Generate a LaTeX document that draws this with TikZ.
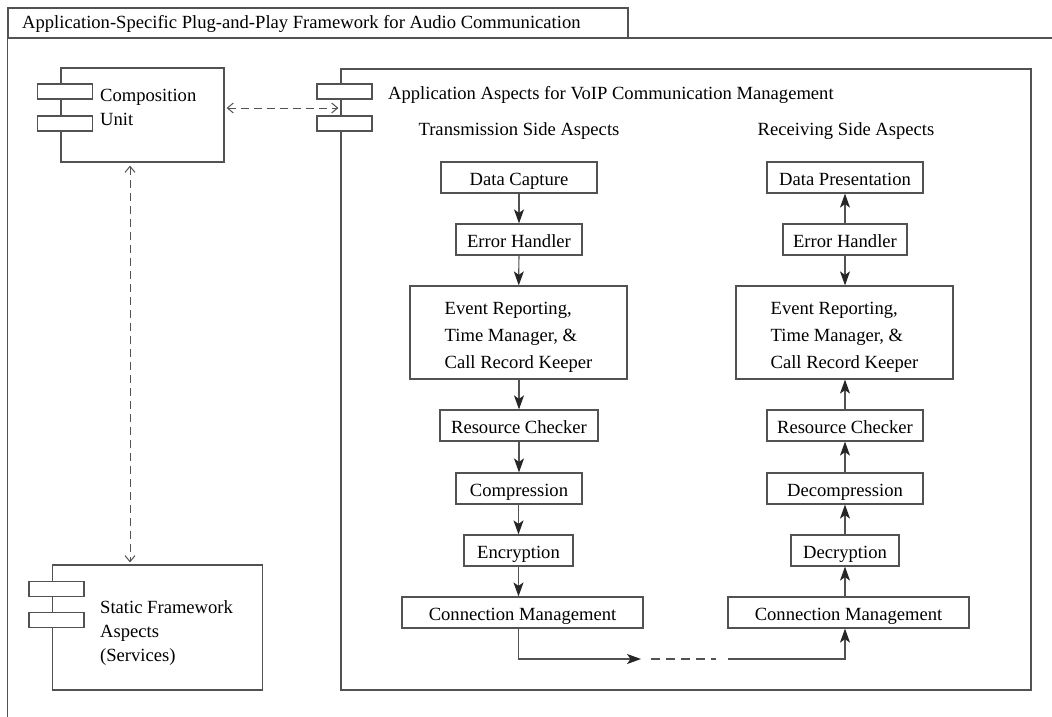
\documentclass[tikz,border=0pt]{standalone}
\usepackage{fontspec}
\setmainfont{Liberation Serif}
\usetikzlibrary{arrows.meta}
\newcommand\fs{\fontsize{18.6}{24}\selectfont}
\newcommand\fsev{\fontsize{18.6}{27}\selectfont}
\begin{document}
\begin{tikzpicture}[x=1pt,y=-1pt,
  ln/.style={draw=black!68, line width=1.2pt},
  box/.style={ln, rectangle, inner sep=0pt, font=\fs, text=black, minimum height=31, text height=16.5, text depth=0pt},
  evbox/.style={ln, rectangle, inner sep=0pt, minimum width=217, minimum height=93},
  evtxt/.style={font=\fsev, align=left, inner sep=0pt, text=black},
  comp/.style={ln, rectangle, inner sep=0pt},
  tabrect/.style={ln, rectangle, fill=white, inner sep=0pt, minimum width=55, minimum height=15},
  lbl/.style={font=\fs, align=left, inner sep=0pt, text=black},
  flow/.style={ln, -{Stealth[length=14pt,width=10pt,inset=3.5pt,color=black!85]}},
  dep/.style={ln, line width=1pt, dash pattern=on 8pt off 5pt,
     {Straight Barb[length=6pt,width=10pt]}-{Straight Barb[length=6pt,width=10pt]}},
  ]
\useasboundingbox (0,0) rectangle (1052,717);

% package frame
\node[comp, minimum width=620, minimum height=30] (tab) at (318,23) {};
\node[lbl, anchor=west] (tabtxt) at (22,24) {Application-Specific Plug-and-Play Framework for Audio Communication};
\coordinate (fbl) at (7.5,717);
\coordinate (ftr) at (1052,38);
\draw[ln] (fbl) |- (ftr);

% components
\node[comp, minimum width=163, minimum height=94] (cu) at (142.5,115) {};
\node[tabrect] (cua) at (65,91.5) {};
\node[tabrect] (cub) at (65,123.5) {};
\node[lbl, anchor=west] (cutxt) at (100,107) {Composition\\Unit};

\node[comp, minimum width=690, minimum height=621] (app) at (686,379.5) {};
\node[tabrect] (appa) at (344.5,91.5) {};
\node[tabrect] (appb) at (344.5,123.5) {};
\node[lbl, anchor=west] (apptxt) at (388,95) {Application Aspects for VoIP Communication Management};
\node[lbl] (tx) at (519,131) {Transmission Side Aspects};
\node[lbl] (rx) at (846,131) {Receiving Side Aspects};

\node[comp, minimum width=210, minimum height=125] (sf) at (157.5,627.5) {};
\node[tabrect] (sfa) at (56.5,589) {};
\node[tabrect] (sfb) at (56.5,620) {};
\node[lbl, anchor=west] (sftxt) at (100,633) {Static Framework\\Aspects\\(Services)};

% dependencies
\coordinate (yh) at (0,108);
\coordinate (xv) at (130,0);
\draw[dep, shorten <=2pt, shorten >=2pt] (cu.east |- yh) -- (app.west |- yh);
\draw[dep, shorten <=3pt, shorten >=2pt] (cu.south -| xv) -- (sf.north -| xv);

% transmission side
\node[box, minimum width=156] (dc) at (519,177.5) {Data Capture};
\node[box, minimum width=126] (eh1) at (519,239.5) {Error Handler};
\node[evbox] (ev1) at (518.5,332.5) {};
\node[evtxt] (ev1t) at (518.5,337) {Event Reporting,\\Time Manager, \&\\Call Record Keeper};
\node[box, minimum width=158] (rc1) at (519,425.5) {Resource Checker};
\node[box, minimum width=126] (cp) at (519,488.5) {Compression};
\node[box, minimum width=109] (en) at (518.5,550.5) {Encryption};
\node[box, minimum width=241] (cm1) at (522.5,612.5) {Connection Management};

\draw[flow] (dc) -- (eh1);
\draw[flow] (eh1) -- (ev1);
\draw[flow] (ev1.south -| rc1) -- (rc1);
\draw[flow] (rc1) -- (cp);
\draw[flow] (cp.south -| en) -- (en);
\draw[flow] (en) -- (en |- cm1.north);

% receiving side
\node[box, minimum width=156] (dp) at (845,177.5) {Data Presentation};
\node[box, minimum width=124] (eh2) at (845,239.5) {Error Handler};
\node[evbox] (ev2) at (844.5,332.5) {};
\node[evtxt] (ev2t) at (844.5,337) {Event Reporting,\\Time Manager, \&\\Call Record Keeper};
\node[box, minimum width=156] (rc2) at (845,425.5) {Resource Checker};
\node[box, minimum width=156] (dcp) at (845,488.5) {Decompression};
\node[box, minimum width=108] (dcr) at (845,550.5) {Decryption};
\node[box, minimum width=241] (cm2) at (848.5,612.5) {Connection Management};

\draw[flow] (eh2) -- (dp);
\draw[flow] (eh2) -- (ev2.north -| eh2);
\draw[flow] (rc2) -- (ev2.south -| rc2);
\draw[flow] (dcp) -- (rc2);
\draw[flow] (dcr) -- (dcp);
\draw[flow] (cm2.north -| dcr) -- (dcr);

% network link
\coordinate (p1) at (641,659);
\coordinate (d1) at (651,659);
\coordinate (d2) at (716,659);
\coordinate (p2) at (728,659);
\draw[flow] (cm1.south -| en) |- (p1);
\draw[ln, dash pattern=on 9pt off 6pt] (d1) -- (d2);
\draw[flow] (p2) -| (cm2.south -| dcr);
\end{tikzpicture}
\end{document}
